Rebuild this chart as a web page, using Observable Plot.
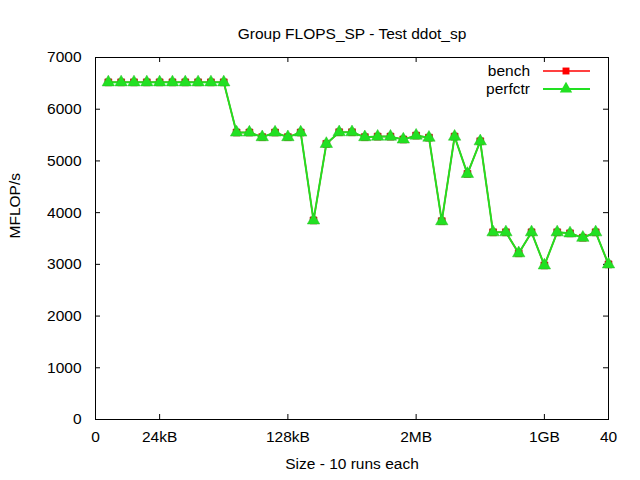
<!DOCTYPE html>
<html>
<head>
<meta charset="utf-8">
<script src="https://cdn.jsdelivr.net/npm/d3@7"></script>
<script src="https://cdn.jsdelivr.net/npm/@observablehq/plot@0.6"></script>
<style>
  html, body { margin: 0; padding: 0; background: #fff; }
  #chart { width: 640px; height: 480px; }
</style>
</head>
<body>
<div id="chart"></div>
<script>
const title = "Group FLOPS_SP - Test ddot_sp";
const xLabel = "Size - 10 runs each";
const yLabel = "MFLOP/s";
const xTicks = [0, 5, 15, 25, 35, 40];
const xTickLabels = ["0", "24kB", "128kB", "2MB", "1GB", "40"];
const yTicks = [0, 1000, 2000, 3000, 4000, 5000, 6000, 7000];
const runs = d3.range(1, 41);
const bench = [6520, 6520, 6520, 6520, 6520, 6520, 6520, 6520, 6520, 6520,
  5550, 5550, 5460, 5550, 5460, 5550, 3850, 5330, 5555, 5555,
  5460, 5470, 5470, 5415, 5490, 5450, 3835, 5470, 4750, 5380,
  3620, 3620, 3215, 3620, 2980, 3620, 3600, 3515, 3620, 3000];
const perfctr = [6520, 6520, 6520, 6520, 6520, 6520, 6520, 6520, 6520, 6520,
  5550, 5550, 5460, 5550, 5460, 5550, 3850, 5330, 5555, 5555,
  5460, 5470, 5470, 5415, 5490, 5450, 3835, 5470, 4750, 5380,
  3620, 3620, 3215, 3620, 2980, 3620, 3600, 3515, 3620, 3000];
const seriesNames = ["bench", "perfctr"];
const seriesColors = ["#ff0000", "#22e022"];

const benchData = runs.map((x, i) => ({x, y: bench[i]}));
const perfData = runs.map((x, i) => ({x, y: perfctr[i]}));

const W = 640, H = 480, mL = 95, mR = 32, mT = 57, mB = 61;
const plotW = W - mL - mR, plotH = H - mT - mB;
const tk = 5;
const fs = 15.5;

const plot = Plot.plot({
  width: W, height: H,
  marginLeft: mL, marginRight: mR, marginTop: mT, marginBottom: mB,
  style: {fontFamily: "'Liberation Sans', Arial, sans-serif", fontSize: fs + "px", background: "#fff", color: "#000"},
  x: {domain: [0, 40]},
  y: {domain: [0, 7000]},
  marks: [
    Plot.axisX({ticks: xTicks, tickFormat: (d) => xTickLabels[xTicks.indexOf(d)], tickSize: 0, tickPadding: 11, fontSize: fs,
      label: null}),
    Plot.axisY({ticks: yTicks, tickFormat: d => String(d), tickSize: 0, tickPadding: 14, fontSize: fs,
      label: null}),
    Plot.tickX(xTicks.slice(1, -1), {x: d => d, insetTop: plotH - tk, stroke: "#000"}),
    Plot.tickX(xTicks.slice(1, -1), {x: d => d, insetBottom: plotH - tk, stroke: "#000"}),
    Plot.tickY(yTicks.slice(1, -1), {y: d => d, insetRight: plotW - tk, stroke: "#000"}),
    Plot.tickY(yTicks.slice(1, -1), {y: d => d, insetLeft: plotW - tk, stroke: "#000"}),
    Plot.frame({stroke: "#000"}),
    Plot.line(benchData, {x: "x", y: "y", stroke: seriesColors[0], strokeWidth: 1.5}),
    Plot.dot(benchData, {x: "x", y: "y", symbol: "square", r: 3.9, fill: seriesColors[0], stroke: "#a00000", strokeWidth: 0.6}),
    Plot.line(perfData, {x: "x", y: "y", stroke: seriesColors[1], strokeWidth: 2}),
    Plot.dot(perfData, {x: "x", y: "y", symbol: "triangle", r: 4.6, fill: seriesColors[1], stroke: "#22c022", strokeWidth: 0.5}),
    Plot.text([title], {frameAnchor: "top", dy: -30, fontSize: fs, text: d => d}),
    Plot.text([xLabel], {frameAnchor: "bottom", dy: 49, fontSize: fs, text: d => d}),
    Plot.text([yLabel], {frameAnchor: "left", dx: -80, rotate: -90, fontSize: fs, text: d => d})
  ]
});
document.getElementById("chart").appendChild(plot);

// Legend (inside top-right of the plot area)
const svg = d3.select(plot);
const lg = svg.append("g").attr("font-family", "'Liberation Sans', Arial, sans-serif").attr("font-size", fs);
seriesNames.forEach((name, i) => {
  const yy = 71 + i * 18;
  lg.append("text").attr("x", 530).attr("y", yy).attr("dy", "0.35em").attr("text-anchor", "end").attr("fill", "#000").text(name);
  lg.append("line").attr("x1", 543).attr("x2", 590).attr("y1", yy).attr("y2", yy)
    .attr("stroke", seriesColors[i]).attr("stroke-width", i ? 2 : 1.5);
  const sym = i ? d3.symbolTriangle : d3.symbolSquare;
  const r = i ? 4.6 : 3.9;
  lg.append("path").attr("d", d3.symbol(sym, r * r * Math.PI)()).attr("transform", `translate(566,${yy})`)
    .attr("fill", seriesColors[i]);
});
</script>
</body>
</html>
